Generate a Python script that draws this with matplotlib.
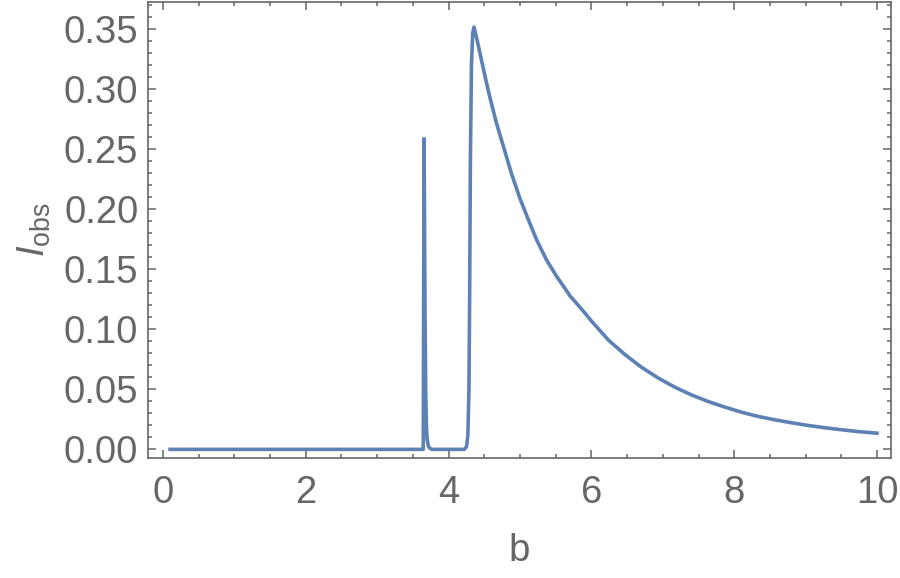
import matplotlib
matplotlib.use("Agg")
import matplotlib.pyplot as plt
from matplotlib.ticker import MultipleLocator

# values (b, I_obs)
b_vals = [0.10, 1.00, 2.00, 3.00, 3.62, 3.645, 3.652, 3.656, 3.662, 3.670,
          3.680, 3.690, 3.700, 3.720, 3.760, 4.000, 4.220, 4.250, 4.270,
          4.285, 4.295, 4.305, 4.320, 4.338, 4.356, 4.40, 4.44, 4.51,
          4.58, 4.67, 4.77, 4.88, 5.00, 5.12, 5.23, 5.37, 5.51, 5.70,
          5.89, 6.00, 6.24, 6.47, 6.70, 6.94, 7.17, 7.40, 7.64, 7.87,
          8.10, 8.34, 8.57, 8.81, 9.04, 9.27, 9.51, 9.74, 10.00]
I_vals = [0.0, 0.0, 0.0, 0.0, 0.0, 0.0, 0.15, 0.259, 0.20, 0.11,
          0.045, 0.018, 0.008, 0.002, 0.0, 0.0, 0.0, 0.002, 0.012,
          0.05, 0.13, 0.24, 0.32, 0.347, 0.352, 0.341, 0.330, 0.311,
          0.293, 0.272, 0.252, 0.230, 0.209, 0.191, 0.175, 0.158, 0.1445, 0.128,
          0.115, 0.107, 0.091, 0.079, 0.0685, 0.0593, 0.0518, 0.0454, 0.0398, 0.0352,
          0.0310, 0.0274, 0.0246, 0.0221, 0.0199, 0.0180, 0.0163, 0.0148, 0.0135]

gray = "#666666"
line_col = "#5E81B5"

plt.rcParams["font.family"] = ["Liberation Sans", "DejaVu Sans"]
plt.rcParams["mathtext.fontset"] = "custom"
plt.rcParams["mathtext.rm"] = "Liberation Sans"
plt.rcParams["mathtext.it"] = "Liberation Sans:italic"

fig = plt.figure(figsize=(9, 5.78), dpi=100)
ax = fig.add_axes([148/900, 1-458/578, (891-148)/900, (458-1.5)/578])

ax.plot(b_vals, I_vals, color=line_col, lw=2.6, solid_joinstyle="round")

ax.set_xlim(-0.21, 10.196)
ax.set_ylim(-0.0072, 0.3733)

ax.xaxis.set_major_locator(MultipleLocator(2))
ax.xaxis.set_minor_locator(MultipleLocator(0.5))
ax.yaxis.set_major_locator(MultipleLocator(0.05))
ax.yaxis.set_minor_locator(MultipleLocator(0.01))
ax.yaxis.set_major_formatter(plt.FormatStrFormatter("%.2f"))

for s in ax.spines.values():
    s.set_color(gray)
    s.set_linewidth(1.2)

ax.tick_params(which="both", direction="in", color=gray, labelcolor=gray,
               top=True, right=True, labelsize=27.5, width=1.1)
ax.tick_params(which="major", length=5.5)
ax.tick_params(which="minor", length=3)
ax.tick_params(axis="x", pad=12)
ax.tick_params(axis="y", pad=7)

ax.set_xlabel("b", fontsize=27.5, color=gray, labelpad=16)
ax.set_ylabel(r"$I_{\mathrm{obs}}$", fontsize=27.5, color=gray, labelpad=8)

fig.savefig("out.png", dpi=100)
